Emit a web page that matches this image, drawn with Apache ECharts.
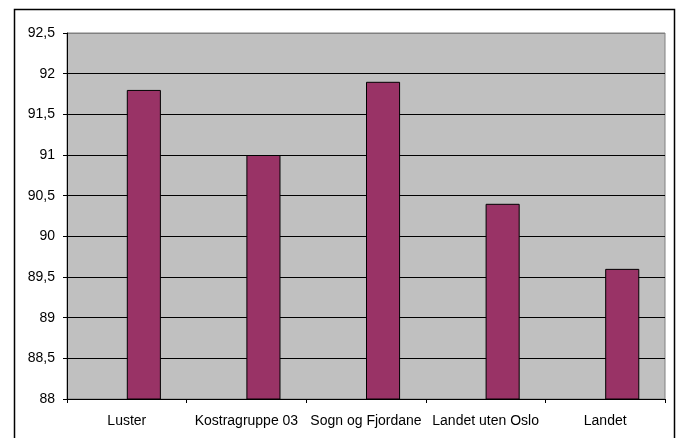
<!DOCTYPE html>
<html>
<head>
<meta charset="utf-8">
<script src="https://cdn.jsdelivr.net/npm/echarts@6/dist/echarts.min.js"></script>
<style>
  html, body { margin: 0; padding: 0; background: #fff; }
  #chart { width: 681px; height: 438px; }
</style>
</head>
<body>
<div id="chart"></div>
<script>
const categories = ['Luster', 'Kostragruppe 03', 'Sogn og Fjordane', 'Landet uten Oslo', 'Landet']
const values = [91.8, 91.0, 91.9, 90.4, 89.6]
// Excel kept an empty first series, so the bars sit right of centre
const emptySeries = ['-', '-', '-', '-', '-']
const yMin = 88
const yMax = 92.5
const yStep = 0.5

const chart = echarts.init(document.getElementById('chart'), null, { renderer: 'canvas' })

const gridLineColors = ['#000', '#000', '#000', '#000', '#000', '#000', '#000', '#000', '#000', '#808080']

chart.setOption({
  animation: false,
  backgroundColor: '#fff',
  textStyle: { fontFamily: 'Liberation Sans, Arial, sans-serif' },
  graphic: [
    {
      type: 'rect',
      shape: { x: 14.5, y: 9.5, width: 660, height: 440 },
      style: { fill: 'none', stroke: '#000', lineWidth: 1.5 },
      silent: true,
    },
  ],
  grid: {
    left: 67,
    right: 16,
    top: 33,
    bottom: 39,
    show: true,
    backgroundColor: '#c0c0c0',
    borderColor: '#808080',
    borderWidth: 1,
  },
  xAxis: {
    type: 'category',
    data: categories,
    axisLine: { lineStyle: { color: '#000', width: 1 } },
    axisTick: { show: true, length: 4, lineStyle: { color: '#000' } },
    axisLabel: {
      color: '#000',
      fontSize: 14,
      margin: 15,
      interval: 0,
    },
  },
  yAxis: {
    type: 'value',
    min: yMin,
    max: yMax,
    interval: yStep,
    axisLine: { show: true, lineStyle: { color: '#000', width: 1 } },
    axisTick: { show: true, length: 4, lineStyle: { color: '#000' } },
    axisLabel: {
      color: '#000',
      fontSize: 14,
      margin: 12,
      formatter: (v) => String(v).replace('.', ','),
    },
    splitLine: { show: true, lineStyle: { color: gridLineColors, width: 1 } },
  },
  series: [
    {
      type: 'bar',
      data: emptySeries,
      barGap: '0%',
      barCategoryGap: '43%',
    },
    {
      type: 'bar',
      data: values,
      barGap: '0%',
      barCategoryGap: '43%',
      itemStyle: { color: '#993366', borderColor: '#000', borderWidth: 1 },
    },
  ],
})
</script>
</body>
</html>
